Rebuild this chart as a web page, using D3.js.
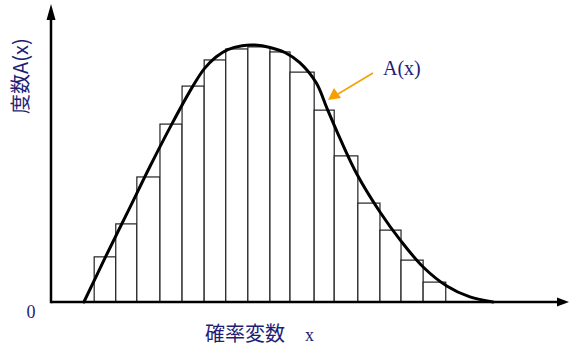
<!DOCTYPE html>
<html>
<head>
<meta charset="utf-8">
<script src="https://cdn.jsdelivr.net/npm/d3@7"></script>
<style>
  body { margin: 0; background: #fff; }
  svg { display: block; }
</style>
</head>
<body>
<svg id="chart" width="570" height="350"></svg>
<script>
// bin edges (x units) and bar heights (frequency units)
var binEdges = [8.4, 12.6, 16.7, 21.2, 25.5, 29.8, 34.0, 38.3, 42.6, 46.5, 51.2, 55.1, 59.7, 64.0, 68.1, 72.4, 76.8];
var barHeights = [15.2, 26.3, 42.1, 59.9, 72.7, 81.5, 85.2, 85.9, 84.2, 77.4, 64.6, 49.2, 33.3, 24.2, 14.1, 6.7];

// fitted curve A(x)
var curveX = [6.4, 10.7, 15.0, 19.3, 23.5, 27.4, 29.8, 32.1, 34.4, 37.2, 39.7, 42.6, 45.5, 48.4, 51.6, 53.7, 56.4, 59.5, 64.0, 68.1, 72.4, 77.0, 81.5, 86.0];
var curveY = [0, 15.5, 30.6, 45.8, 59.9, 72.1, 78.5, 82.5, 85.0, 86.3, 86.5, 85.7, 84.0, 80.6, 73.8, 65.2, 54.4, 43.1, 30.3, 20.5, 11.8, 5.4, 1.7, 0];

var navy = '#1e1e78';

var svg = d3.select('#chart');
var x = d3.scaleLinear().domain([0, 100]).range([51, 565]);
var y = d3.scaleLinear().domain([0, 100]).range([302, 5]);

var bars = [];
for (var i = 0; i < barHeights.length; i++) {
  bars.push({x0: binEdges[i], x1: binEdges[i+1], h: barHeights[i]});
}

svg.selectAll('rect.bar')
  .data(bars)
  .enter().append('rect')
  .attr('class', 'bar')
  .attr('x', function(d) { return x(d.x0); })
  .attr('y', function(d) { return y(d.h); })
  .attr('width', function(d) { return x(d.x1) - x(d.x0); })
  .attr('height', function(d) { return y(0) - y(d.h); })
  .style('fill', '#fff')
  .style('stroke', '#222')
  .style('stroke-width', '1.2px');

// axes with arrow heads
svg.append('line')
  .attr('x1', x(0)).attr('y1', y(0))
  .attr('x2', 558).attr('y2', y(0))
  .style('stroke', '#000').style('stroke-width', '2.5px');
svg.append('path')
  .attr('d', 'M557,297.5 L569,' + y(0) + ' L557,306.5 Z')
  .style('fill', '#000');
svg.append('line')
  .attr('x1', x(0)).attr('y1', y(0) + 1.2)
  .attr('x2', x(0)).attr('y2', 18)
  .style('stroke', '#000').style('stroke-width', '2.5px');
svg.append('path')
  .attr('d', 'M46.5,20 L' + x(0) + ',4 L55.5,20 Z')
  .style('fill', '#000');

// curve
var pts = curveX.map(function(v, k) { return [v, curveY[k]]; });
var line = d3.line()
  .curve(d3.curveCatmullRom.alpha(0.5))
  .x(function(d) { return x(d[0]); })
  .y(function(d) { return y(d[1]); });
svg.append('path')
  .datum(pts)
  .attr('d', line)
  .style('fill', 'none')
  .style('stroke', '#000')
  .style('stroke-width', '3px')
  .style('stroke-linecap', 'round');

// annotation
svg.append('line')
  .attr('x1', 373).attr('y1', 73)
  .attr('x2', 338).attr('y2', 94)
  .style('stroke', '#f5a000').style('stroke-width', '1.5px');
svg.append('path')
  .attr('d', 'M328,100 L334,88 L341,98 Z')
  .style('fill', '#f5a000');
svg.append('text')
  .attr('x', 383).attr('y', 75)
  .style('font-family', '"Liberation Serif", serif')
  .style('font-size', '20px')
  .style('fill', navy)
  .text('A(x)');

// labels
svg.append('text')
  .attr('x', 31).attr('y', 318)
  .attr('text-anchor', 'middle')
  .style('font-family', '"Liberation Serif", serif')
  .style('font-size', '18px')
  .style('fill', navy)
  .text('0');

svg.append('text')
  .attr('transform', 'translate(28,114) rotate(-90)')
  .style('font-family', '"Noto Sans CJK JP", sans-serif')
  .style('font-size', '20px')
  .style('fill', navy)
  .text('度数A(x)');

var xl = svg.append('text')
  .attr('x', 205).attr('y', 341)
  .style('font-size', '20px')
  .style('fill', navy);
xl.append('tspan')
  .style('font-family', '"Noto Sans CJK JP", sans-serif')
  .text('確率変数');
xl.append('tspan')
  .attr('x', 305)
  .style('font-family', '"Liberation Serif", serif')
  .style('font-size', '18px')
  .text('x');
</script>
</body>
</html>
